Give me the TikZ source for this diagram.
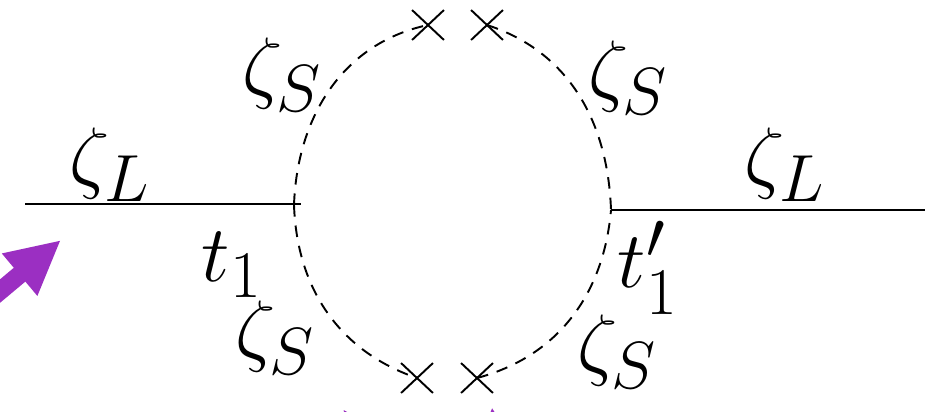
\documentclass[tikz,border=0pt]{standalone}
\usepackage{amsmath}
\usepackage{tikz}
\usetikzlibrary{arrows.meta,shapes.misc}
\definecolor{palPurple}{HTML}{9B2FC2}

\begin{document}
\begin{tikzpicture}[
  x=0.311pt, y=0.311pt,
  font=\Huge,
  leg/.style={line width=0.65pt},
  prop/.style={dash pattern=on 3.6pt off 2.8pt, line width=0.6pt},
  insert/.style={cross out, draw, line width=0.6pt, minimum width=9.3pt, minimum height=8.7pt, inner sep=0pt},
  lbl/.style={inner sep=0pt},
  pointer/.style={-{Triangle[length=16.8pt,width=15.9pt]}, line width=5.6pt, draw=palPurple, fill=palPurple},
]
\clip (0,0) rectangle (930,-411);
% external legs and vertices
\coordinate (inL) at (25,-204);
\coordinate (vL) at (301,-204);
\coordinate (vR) at (611,-210);
\coordinate (outR) at (925,-210);
\coordinate (loopL) at (294,-205);
\coordinate (loopR) at (611,-210);
\draw[leg] (inL) -- (vL);
\draw[leg] (vR) -- (outR);

% mass insertions
\node[insert] (xTL) at (428,-25) {};
\node[insert] (xTR) at (487,-25) {};
\node[insert] (xBL) at (417,-378) {};
\node[insert] (xBR) at (477,-378) {};

% short-mode loop
\draw[prop] (loopL) to[out=88,in=192] (xTL.center);
\draw[prop] (xTR.center) to[out=-18,in=92] (loopR);
\draw[prop] (loopL) to[out=-88,in=161] (xBL.center);
\draw[prop] (xBR.center) to[out=15,in=-95] (loopR);

% labels
\node[lbl] (zL1) at (110,-165) {$\zeta_L$};
\node[lbl] (zL2) at (785,-165) {$\zeta_L$};
\node[lbl] (zS1) at (282,-75) {$\zeta_S$};
\node[lbl] (zS2) at (628,-78) {$\zeta_S$};
\node[lbl] (zS3) at (275,-338) {$\zeta_S$};
\node[lbl] (zS4) at (617,-352) {$\zeta_S$};
\node[lbl] (t1) at (232,-265) {$t_1$};
\node[lbl] (t2) at (648,-268) {$t'_1$};

% pointers
\coordinate (p1) at (-25,-312);
\coordinate (p1tip) at (61,-240);
\coordinate (p2) at (380,-465);
\coordinate (p2tip) at (343,-409);
\coordinate (p3) at (497,-465);
\coordinate (p3tip) at (492,-407);
\draw[pointer] (p1) -- (p1tip);
\draw[pointer] (p2) -- (p2tip);
\draw[pointer] (p3) -- (p3tip);
\end{tikzpicture}
\end{document}
